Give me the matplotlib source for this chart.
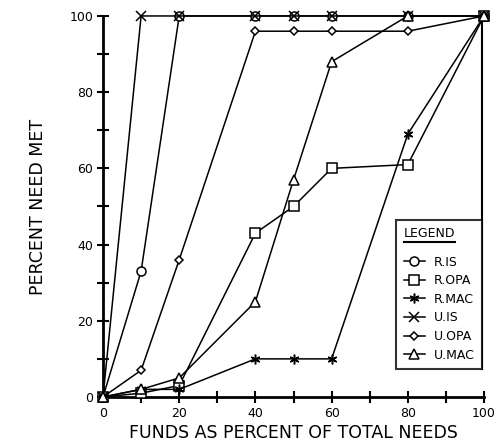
import matplotlib.pyplot as plt
from matplotlib.lines import Line2D

# Percent of total needs funded (x) vs percent of need met (y)
funds = [0, 10, 20, 40, 50, 60, 80, 100]

r_is = [0, 33, 100, 100, 100, 100, 100, 100]
r_opa = [0, 1, 3, 43, 50, 60, 61, 100]
r_mac = [0, 2, 2, 10, 10, 10, 69, 100]
u_is = [0, 100, 100, 100, 100, 100, 100, 100]
u_opa = [0, 7, 36, 96, 96, 96, 96, 100]
u_mac = [0, 2, 5, 25, 57, 88, 100, 100]

series = [
    ("R.IS", r_is, "o", 6.5),
    ("R.OPA", r_opa, "s", 6.5),
    ("R.MAC", r_mac, (6, 2, 0), 7),
    ("U.IS", u_is, "x", 6.5),
    ("U.OPA", u_opa, "D", 4.5),
    ("U.MAC", u_mac, "^", 7),
]

x_ticks = [0, 20, 40, 60, 80, 100]
y_ticks = [0, 20, 40, 60, 80, 100]

plt.rcParams["font.family"] = "DejaVu Sans"

fig = plt.figure(figsize=(5.01, 4.46), dpi=100)
ax = fig.add_axes([0.2056, 0.1099, 0.7605, 0.8543])

handles = []
for name, vals, mk, ms in series:
    style = dict(color="black", lw=1.1, marker=mk, ms=ms,
                 mfc="white", mec="black", mew=1.1)
    ax.plot(funds, vals, clip_on=False, zorder=3, **style)
    handles.append(Line2D([], [], **style))

ax.set_xlim(0, 100)
ax.set_ylim(0, 100)
ax.set_xticks(x_ticks)
ax.set_yticks(y_ticks)
ax.set_xticks(range(10, 100, 20), minor=True)
ax.set_yticks(range(10, 100, 20), minor=True)
ax.tick_params(which="both", direction="inout", length=8, width=1.5,
               labelsize=9, pad=3)

for side in ("top", "right"):
    ax.spines[side].set_visible(False)
for side in ("left", "bottom"):
    ax.spines[side].set_linewidth(2)

ax.set_xlabel("FUNDS AS PERCENT OF TOTAL NEEDS", fontsize=12.5, labelpad=3)
ax.set_ylabel("PERCENT NEED MET", fontsize=12.5, labelpad=16)

leg = ax.legend(handles, [s[0] for s in series], title="LEGEND",
                loc="upper right", bbox_to_anchor=(0.995, 0.465),
                borderaxespad=0, frameon=True, fancybox=False,
                edgecolor="black", fontsize=9, title_fontsize=9,
                handlelength=1.7, handletextpad=0.7, labelspacing=0.45,
                borderpad=0.6)
leg.get_frame().set_linewidth(1.5)
leg._legend_box.align = "left"
leg._legend_box.sep = 11
leg.set_zorder(5)

# underline under the legend title
fig.canvas.draw()
tb = leg.get_title().get_window_extent()
inv = fig.transFigure.inverted()
(x0, y0), (x1, _) = inv.transform([[tb.x0, tb.y0 - 2], [tb.x1, tb.y0 - 2]])
fig.add_artist(Line2D([x0, x1], [y0, y0], color="black", lw=1.5))

# frame line running from the legend box up to the top of the plot
lb = inv.transform(leg.get_window_extent())
ax.plot([0.995, 0.995], [(lb[0][1] - 0.1099) / 0.8543, 1],
        transform=ax.transAxes, color="black", lw=1.5, clip_on=False)

fig.savefig("out.png", dpi=100)
